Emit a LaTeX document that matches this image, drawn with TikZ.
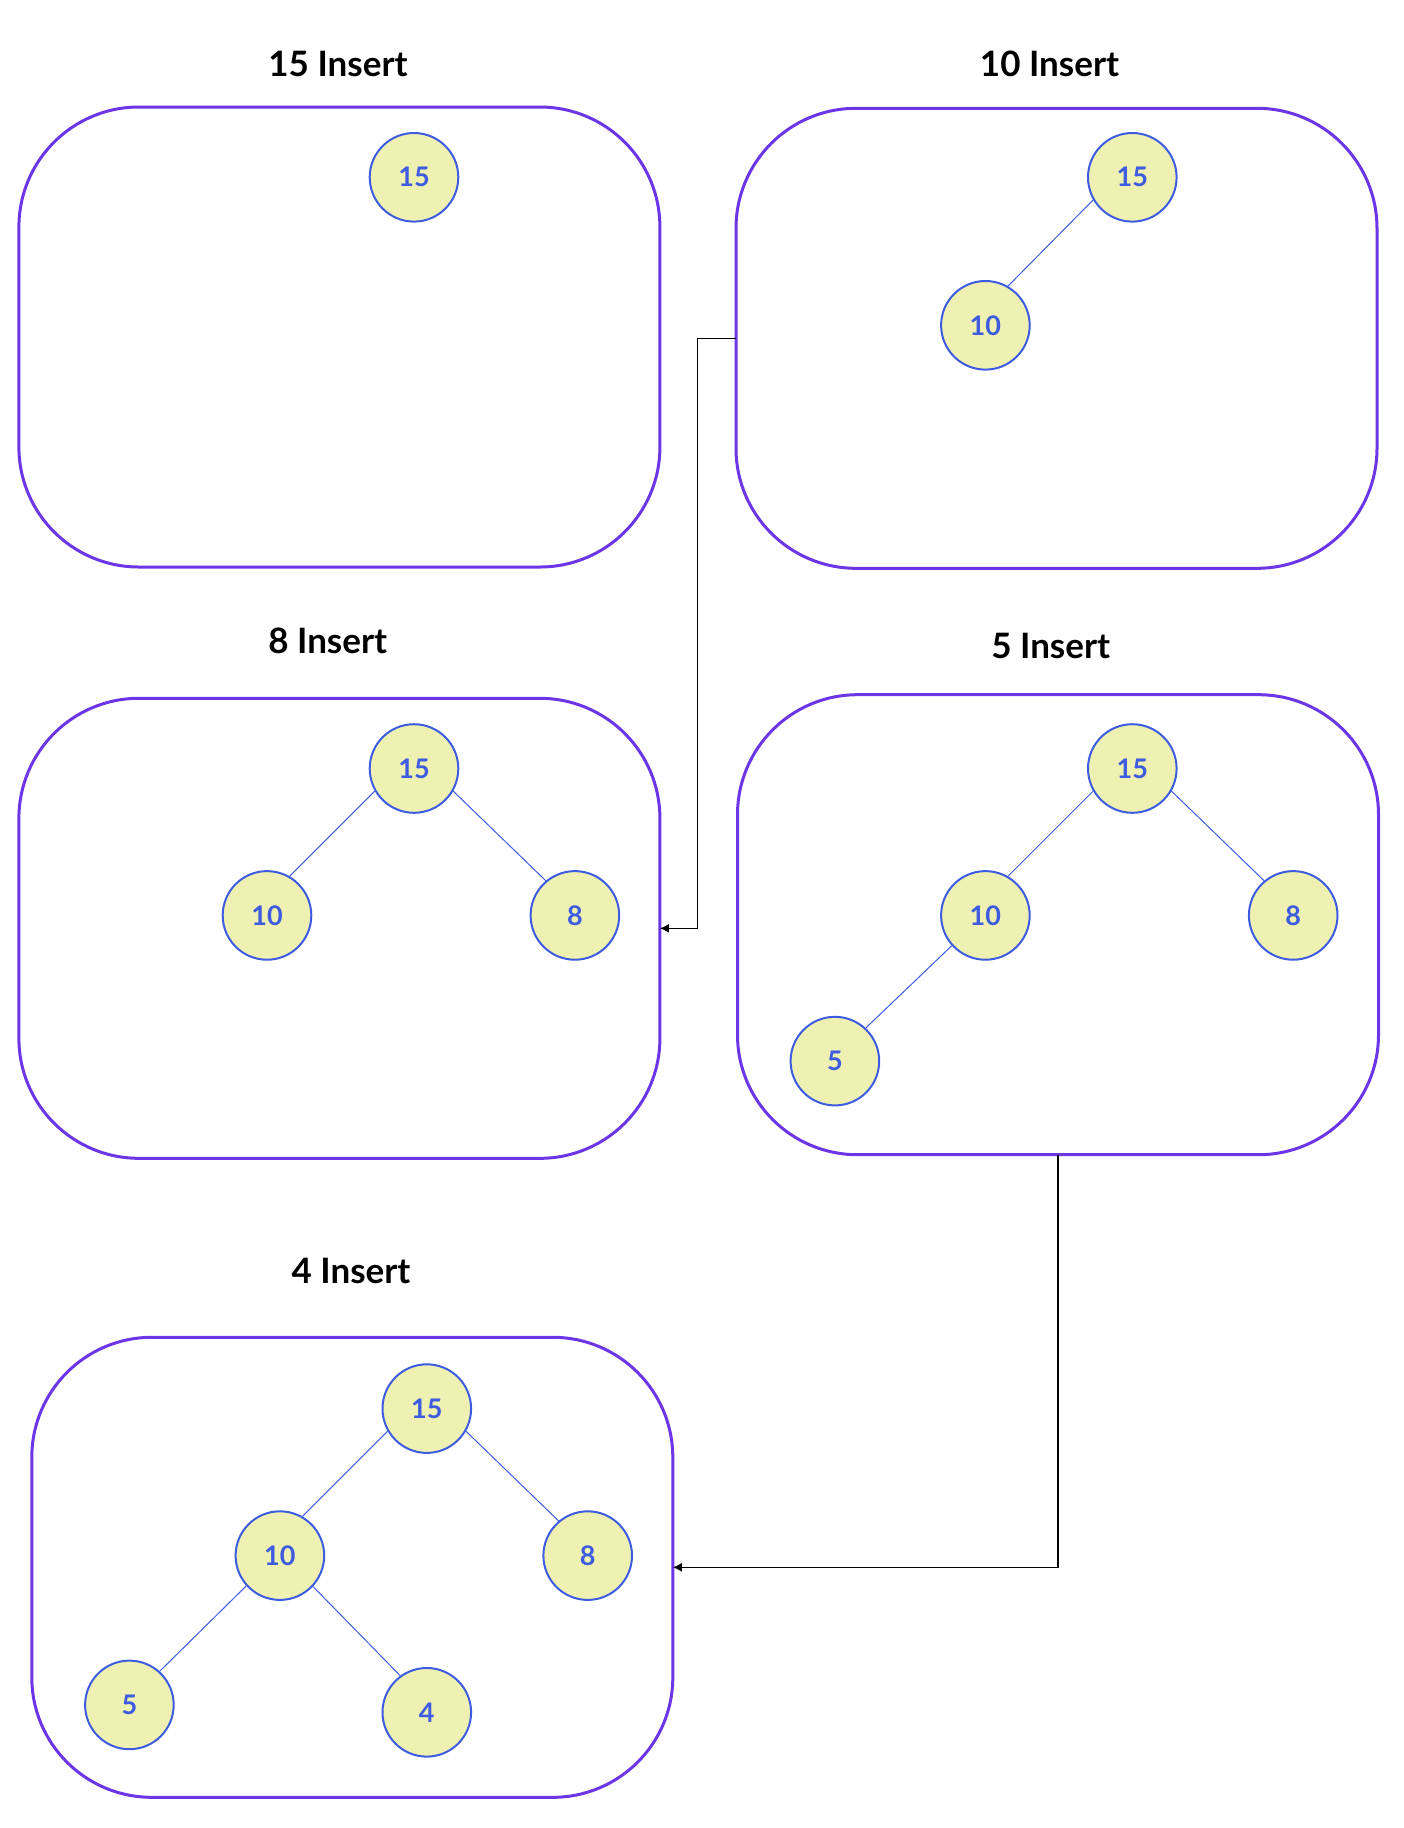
\documentclass[tikz,border=0pt]{standalone}
\usepackage{fontspec}
\setmainfont{Lato}
\usetikzlibrary{arrows.meta}
\definecolor{boxviolet}{HTML}{6C35E6}
\definecolor{keyfill}{HTML}{EFF1B2}
\definecolor{keyblue}{HTML}{3D5CE0}
\tikzset{
  stage/.style={draw=boxviolet,line width=1.5pt,rounded corners=60pt,minimum width=320.5pt,minimum height=230pt,inner sep=0pt,outer sep=0pt},
  key/.style={circle,draw=keyblue,fill=keyfill,line width=1pt,minimum size=44.3pt,inner sep=0pt,text=keyblue,font=\bfseries\fontsize{13.5}{15}\selectfont},
  link/.style={draw=keyblue,line width=0.5pt},
  title/.style={font=\bfseries\fontsize{17.5}{20}\selectfont},
  move/.style={-{Latex[length=4.5pt,width=4.5pt]},line width=0.75pt}
}
\begin{document}
\begin{tikzpicture}[x=0.5pt,y=-0.5pt]
            \useasboundingbox (0,0) rectangle (1404,1828);
            % stage boxes
            \node[stage] (b1) at (339.4,337) {};
            \node[stage] (b2) at (1056.5,338.3) {};
            \node[stage] (b3) at (339.4,928.3) {};
            \node[stage] (b4) at (1058,924.7) {};
            \node[stage] (b5) at (352.3,1567.3) {};
            % titles
            \node[title] (t1) at (338,64) {15 Insert};
            \node[title] (t2) at (1049.5,64) {10 Insert};
            \node[title] (t3) at (327.7,641) {8 Insert};
            \node[title] (t4) at (1050.7,646) {5 Insert};
            \node[title] (t5) at (351,1271) {4 Insert};
            % 15
            \node[key] (a15) at (414,177.3) {15};
            % 10
            \node[key] (c15) at (1132.3,177.3) {15};
            \node[key] (c10) at (985.4,325.3) {10};
            \draw[link] (c15.-150)--(c10.60);
            % 8
            \node[key] (d15) at (414,768.5) {15};
            \node[key] (d10) at (267,915.4) {10};
            \node[key] (d8) at (574.9,915.4) {8};
            \draw[link] (d15.-150)--(d10.60);
            \draw[link] (d15.-30)--(d8.130);
            % 5
            \node[key] (e15) at (1132.3,768.5) {15};
            \node[key] (e10) at (985.4,915.4) {10};
            \node[key] (e8) at (1293.2,915.4) {8};
            \node[key] (e5) at (834.9,1061.1) {5};
            \draw[link] (e15.-150)--(e10.60);
            \draw[link] (e15.-30)--(e8.130);
            \draw[link] (e10.-138)--(e5.47);
            % 4
            \node[key] (f15) at (426.8,1408.6) {15};
            \node[key] (f10) at (279.9,1555.6) {10};
            \node[key] (f8) at (587.7,1555.6) {8};
            \node[key] (f5) at (129.4,1704.9) {5};
            \node[key] (f4) at (426.8,1712.3) {4};
            \draw[link] (f15.-150)--(f10.60);
            \draw[link] (f15.-30)--(f8.130);
            \draw[link] (f10.-138)--(f5.48);
            \draw[link] (f10.-43)--(f4.126);
            % steps
            \draw[move] (b2.west)--++(-38.7,0)|-(b3.east);
            \draw[move] (b4.south)|-(b5.east);
\end{tikzpicture}
\end{document}
